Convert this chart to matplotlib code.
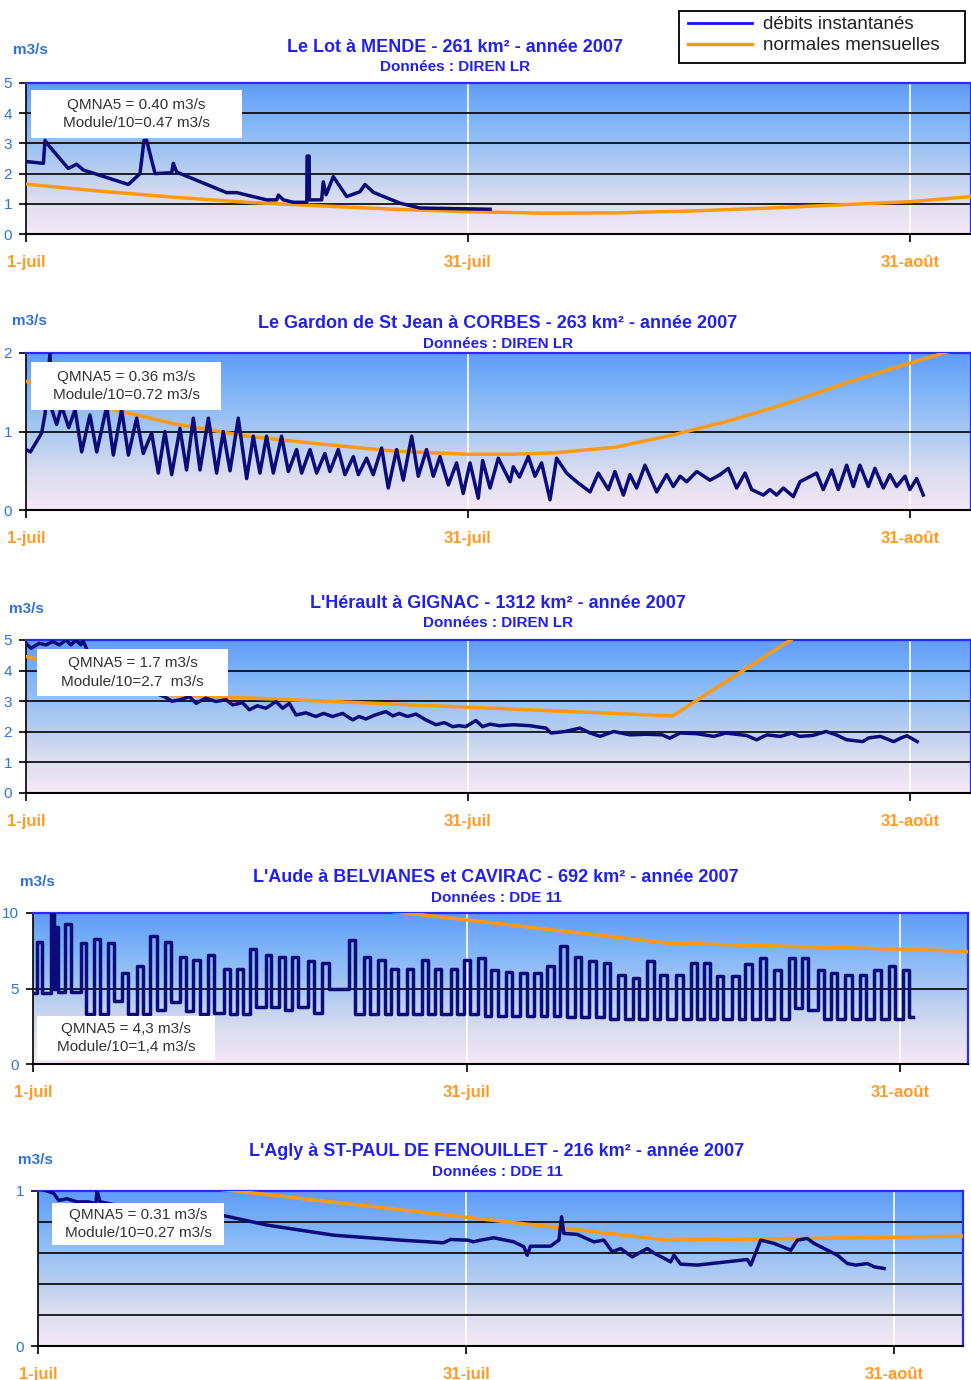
import numpy as np
import matplotlib
matplotlib.use("Agg")
import matplotlib.pyplot as plt
from matplotlib.colors import LinearSegmentedColormap
from matplotlib.lines import Line2D
from matplotlib.patches import Rectangle

plt.rcParams['font.family'] = ['Liberation Sans', 'DejaVu Sans']

# days counted from 1-juil (0) ; ticks 1-juil / 31-juil / 31-aout
tick_days = [0, 30, 60]
tick_labels = ['1-juil', '31-juil', '31-août']

# Le Lot a MENDE
lot_j = [0, 1.18, 1.29, 1.63, 2.87, 3.44, 3.89, 6.95, 7.74, 8.01,
         8.19, 8.76, 9.89, 10.0, 10.23, 13.62, 14.3, 16.34, 17.02, 17.13,
         17.47, 18.15, 19.06, 19.08, 19.22, 19.24, 20.07, 20.18, 20.37, 20.86,
         21.77, 22.67, 23.01, 23.58, 25.39, 26.75, 31.5]
lot_q = [2.40, 2.34, 3.10, 2.88, 2.17, 2.31, 2.12, 1.64, 2.0, 3.1,
         3.1, 2.0, 2.03, 2.34, 2.05, 1.37, 1.37, 1.13, 1.13, 1.29,
         1.13, 1.05, 1.05, 2.58, 2.58, 1.13, 1.13, 1.73, 1.30, 1.90,
         1.24, 1.40, 1.64, 1.38, 1.02, 0.86, 0.82]
lot_nj = [0, 5, 10, 15, 20, 25, 30, 35, 40, 45, 50, 55, 60, 64.2]
lot_nq = [1.65, 1.42, 1.22, 1.05, 0.93, 0.82, 0.74, 0.69, 0.70, 0.76, 0.85, 0.96, 1.07, 1.24]

# Le Gardon de St Jean a CORBES
gard_j = [0, 0.3, 1.06, 1.3, 1.63, 1.75, 2.08, 2.42, 2.9, 3.33,
          3.78, 4.34, 4.8, 5.48, 5.93, 6.49, 6.95, 7.51, 7.96, 8.53,
          8.98, 9.43, 9.89, 10.45, 10.9, 11.36, 11.81, 12.38, 12.94, 13.39,
          13.85, 14.41, 14.98, 15.43, 15.88, 16.33, 16.79, 17.35, 17.81, 18.37,
          18.71, 19.28, 19.73, 20.29, 20.63, 21.2, 21.65, 22.22, 22.56, 23.12,
          23.57, 24.14, 24.59, 25.16, 25.61, 26.18, 26.63, 27.19, 27.65, 28.1,
          28.67, 29.23, 29.68, 30.14, 30.7, 31.0, 31.5, 32.06, 32.86, 33.08,
          33.5, 34.1, 34.55, 35.0, 35.57, 36.02, 36.7, 37.38, 38.29, 38.85,
          39.53, 39.98, 40.55, 41.0, 41.45, 42.02, 42.81, 43.49, 43.94, 44.4,
          44.85, 45.53, 46.43, 47.11, 47.68, 48.24, 48.81, 49.26, 50.05, 50.5,
          50.96, 51.41, 52.09, 52.54, 53.67, 54.12, 54.69, 55.14, 55.71, 56.16,
          56.61, 57.18, 57.63, 58.2, 58.65, 59.1, 59.67, 60.0, 60.46, 60.91]
gard_q = [0.77, 0.74, 0.98, 1.23, 2.0, 1.28, 1.09, 1.32, 1.05, 1.28,
          0.74, 1.21, 0.74, 1.32, 0.70, 1.28, 0.70, 1.17, 0.72, 0.98,
          0.47, 1.0, 0.45, 1.04, 0.51, 1.17, 0.51, 1.17, 0.47, 1.0,
          0.5, 1.17, 0.40, 0.94, 0.47, 0.94, 0.47, 0.94, 0.49, 0.77,
          0.47, 0.77, 0.47, 0.72, 0.49, 0.77, 0.45, 0.68, 0.45, 0.66,
          0.45, 0.79, 0.28, 0.77, 0.38, 0.94, 0.43, 0.77, 0.43, 0.68,
          0.32, 0.6, 0.21, 0.6, 0.15, 0.63, 0.28, 0.66, 0.36, 0.55,
          0.42, 0.68, 0.43, 0.6, 0.13, 0.66, 0.47, 0.36, 0.23, 0.47,
          0.26, 0.49, 0.19, 0.45, 0.28, 0.57, 0.23, 0.45, 0.30, 0.43,
          0.36, 0.49, 0.38, 0.45, 0.53, 0.28, 0.47, 0.26, 0.19, 0.26,
          0.19, 0.28, 0.17, 0.36, 0.47, 0.26, 0.51, 0.26, 0.57, 0.30,
          0.57, 0.30, 0.53, 0.28, 0.45, 0.30, 0.43, 0.26, 0.40, 0.19]
gard_nj = [0, 5, 10, 15, 20, 25, 30, 33, 36, 40, 44, 48, 52, 56, 60, 62.3, 64.2]
gard_nq = [1.64, 1.32, 1.10, 0.94, 0.84, 0.75, 0.71, 0.71, 0.73, 0.80, 0.96, 1.15, 1.38,
           1.64, 1.87, 2.0, 2.1]

# L'Herault a GIGNAC
her_j = [0, 0.34, 0.9, 1.36, 1.81, 2.26, 2.71, 3.05, 3.39, 3.73,
         3.85, 4.5, 6.0, 8.0, 9.39, 9.9, 10.41, 11.1, 11.54, 12.2,
         12.9, 13.57, 14.03, 14.7, 15.16, 15.7, 16.29, 16.97, 17.42, 17.87,
         18.33, 19.0, 19.68, 20.2, 20.81, 21.5, 22.17, 22.6, 23.08, 23.7,
         24.43, 24.9, 25.34, 25.9, 26.47, 27.1, 27.83, 28.4, 28.96, 29.4,
         29.86, 30.54, 30.99, 31.5, 32.13, 33.08, 34.2, 35.3, 35.64, 36.6,
         37.6, 38.3, 38.97, 39.9, 41.0, 42.1, 43.2, 43.7, 44.4, 45.5,
         46.7, 47.5, 48.9, 49.6, 50.3, 51.2, 52.0, 52.5, 53.4, 54.3,
         55.0, 55.7, 56.8, 57.2, 58.0, 58.9, 59.4, 59.8, 60.5]
her_q = [4.89, 4.73, 4.89, 4.84, 4.95, 4.84, 5.0, 4.84, 5.0, 4.84,
         5.0, 4.3, 3.8, 3.4, 3.15, 3.0, 3.04, 3.15, 2.93, 3.1,
         2.99, 3.05, 2.88, 2.95, 2.72, 2.85, 2.77, 2.99, 2.77, 2.93,
         2.55, 2.62, 2.5, 2.6, 2.5, 2.6, 2.39, 2.5, 2.42, 2.55,
         2.66, 2.52, 2.6, 2.5, 2.58, 2.4, 2.23, 2.3, 2.17, 2.2,
         2.17, 2.37, 2.17, 2.25, 2.2, 2.23, 2.2, 2.12, 1.96, 2.01,
         2.12, 1.96, 1.85, 2.01, 1.9, 1.92, 1.9, 1.79, 1.96, 1.94,
         1.85, 1.96, 1.88, 1.74, 1.9, 1.85, 1.96, 1.85, 1.88, 2.01,
         1.9, 1.74, 1.68, 1.8, 1.85, 1.68, 1.8, 1.87, 1.68]
her_nj = [0, 9.4, 43.9, 51.9, 64.5]
her_nq = [4.46, 3.22, 2.52, 5.0, 8.9]

# L'Aude a BELVIANES et CAVIRAC (daily release pulses)
aude_start = 4.7
aude_end = 60.9
aude_up = [0.30, 1.25, 1.55, 2.20, 3.30, 4.20, 5.20, 6.15, 7.20, 8.10,
           9.10, 10.20, 11.10, 12.10, 13.20, 14.10, 15.00, 16.10, 17.00, 17.90,
           19.00, 20.00, 21.85, 22.90, 23.90, 24.80, 25.90, 26.90, 27.80, 28.90,
           29.80, 30.80, 31.70, 32.70, 33.70, 34.70, 35.60, 36.50, 37.50, 38.50,
           39.50, 40.50, 41.50, 42.50, 43.40, 44.50, 45.50, 46.40, 47.30, 48.40,
           49.30, 50.30, 51.30, 52.30, 53.20, 54.30, 55.20, 56.20, 57.20, 58.20,
           59.20, 60.20]
aude_down = [0.60, 1.45, 1.75, 2.60, 3.70, 4.65, 5.60, 6.55, 7.60, 8.55,
             9.55, 10.60, 11.55, 12.55, 13.60, 14.55, 15.45, 16.50, 17.45, 18.35,
             19.45, 20.45, 22.25, 23.30, 24.35, 25.25, 26.30, 27.35, 28.25, 29.35,
             30.25, 31.25, 32.15, 33.15, 34.15, 35.15, 36.05, 36.95, 37.95, 38.95,
             39.95, 40.95, 41.95, 42.95, 43.85, 44.95, 45.95, 46.85, 47.75, 48.85,
             49.75, 50.75, 51.75, 52.75, 53.65, 54.75, 55.65, 56.65, 57.65, 58.65,
             59.65, 60.65]
aude_peak = [8.1, 10.0, 9.1, 9.3, 8.0, 8.3, 8.0, 6.0, 6.5, 8.5,
             8.1, 7.1, 6.9, 7.2, 6.3, 6.3, 7.6, 7.2, 7.1, 7.1,
             6.8, 6.7, 8.2, 7.1, 6.9, 6.3, 6.3, 6.9, 6.3, 6.3,
             6.9, 7.0, 6.2, 6.1, 6.0, 6.0, 6.5, 7.8, 7.1, 6.8,
             6.7, 5.9, 5.7, 6.8, 5.9, 5.9, 6.7, 6.7, 5.8, 5.8,
             6.6, 7.0, 6.2, 7.0, 7.0, 6.2, 6.0, 5.9, 5.9, 6.2,
             6.5, 6.2]
aude_base = [4.7, 5.0, 4.8, 4.8, 3.3, 3.3, 4.2, 3.3, 3.3, 3.6,
             4.1, 3.5, 3.3, 3.4, 3.3, 3.3, 3.8, 3.8, 3.6, 3.8,
             3.4, 5.0, 3.3, 3.3, 3.3, 3.3, 3.3, 3.3, 3.3, 3.3,
             3.3, 3.2, 3.2, 3.2, 3.2, 3.2, 3.2, 3.1, 3.1, 3.1,
             3.0, 3.0, 3.0, 3.0, 3.0, 3.0, 3.0, 3.0, 3.0, 3.0,
             3.0, 3.0, 3.0, 3.7, 3.6, 3.0, 3.0, 2.95, 2.95, 3.0,
             3.0, 3.1]
aude_nj = [0, 25.8, 43.9, 52, 60, 64.7]
aude_nq = [12.8, 10.0, 8.0, 7.8, 7.6, 7.45]

# L'Agly a ST-PAUL DE FENOUILLET
agly_j = [0, 1.1, 1.45, 2.03, 2.73, 3.5, 4.05, 4.14, 4.2, 4.35,
          6.0, 9.0, 13.06, 16.05, 20.7, 25.4, 28.4, 28.9, 30.1, 30.5,
          31.0, 31.93, 33.34, 34.04, 34.27, 34.5, 35.9, 36.49, 36.68, 36.84,
          37.78, 38.94, 39.64, 40.23, 40.81, 41.63, 42.1, 42.68, 43.15, 44.32,
          44.55, 45.02, 46.19, 49.69, 49.93, 50.63, 51.56, 52.73, 53.2, 53.9,
          54.36, 55.07, 56.0, 56.7, 57.28, 58.1, 58.57, 59.27]
agly_q = [1.02, 0.985, 0.94, 0.95, 0.93, 0.93, 0.92, 1.0, 0.98, 0.93,
          0.9, 0.87, 0.84, 0.78, 0.715, 0.683, 0.666, 0.687, 0.683, 0.672,
          0.683, 0.698, 0.672, 0.64, 0.586, 0.644, 0.644, 0.683, 0.834, 0.726,
          0.72, 0.672, 0.683, 0.608, 0.629, 0.575, 0.6, 0.629, 0.6, 0.543,
          0.586, 0.528, 0.522, 0.558, 0.522, 0.683, 0.662, 0.618, 0.683, 0.694,
          0.662, 0.629, 0.586, 0.532, 0.522, 0.532, 0.511, 0.5]
agly_nj = [0, 13.8, 44.1, 55, 64.8]
agly_nq = [1.144, 1.0, 0.683, 0.695, 0.709]

W, H = 971, 1380
NAVY = '#0b0b7a'
ORANGE = '#ff9a10'
TICK_ORANGE = '#ff9a22'
TITLE_BLUE = '#2121e8'
AXIS_BLUE = '#2f72d6'
EDGE_BLUE = '#2a2aff'

bg = LinearSegmentedColormap.from_list(
    'bg', ['#f6e8f6', '#d8dcef', '#a9c8f2', '#80b5f8', '#5f9cf7'])
grad = np.linspace(0, 1, 256).reshape(-1, 1)

fig = plt.figure(figsize=(W / 100, H / 100), dpi=100)


def px_axes(l, r, t, b):
    return fig.add_axes([l / W, 1 - b / H, (r - l) / W, (b - t) / H])


def ftext(x, y, s, **kw):
    fig.text(x / W, 1 - y / H, s, **kw)


def px_rect(x0, y0, x1, y1, **kw):
    fig.add_artist(Rectangle((x0 / W, 1 - y1 / H), (x1 - x0) / W, (y1 - y0) / H,
                             transform=fig.transFigure, **kw))


def panel(frame, xmax, ymax, yticks, grid, j, q, nj, nq, step=False):
    ax = px_axes(*frame)
    ax.imshow(grad, extent=[0, 1, 0, 1], transform=ax.transAxes, origin='lower',
              aspect='auto', cmap=bg, zorder=0)
    ax.set_xlim(0, xmax)
    ax.set_ylim(0, ymax)
    for v in tick_days[1:]:
        ax.axvline(v, color='white', lw=1.2, zorder=1)
    for v in grid:
        ax.axhline(v, color='black', lw=1.2, zorder=1.5)
    ax.plot(nj, nq, color=ORANGE, lw=2.5, zorder=3)
    ax.plot(j, q, color=NAVY, lw=2.5, zorder=4,
            drawstyle='steps-post' if step else 'default', solid_joinstyle='round')
    for s in ['top', 'right']:
        ax.spines[s].set_color(EDGE_BLUE)
        ax.spines[s].set_linewidth(1.6)
    ax.spines['left'].set_linewidth(1.2)
    ax.spines['bottom'].set_linewidth(1.5)
    ax.set_xticks(tick_days)
    ax.set_xticklabels(tick_labels, fontweight='bold')
    ax.tick_params(axis='x', length=6, width=1.2, pad=9, labelsize=12,
                   labelcolor=TICK_ORANGE)
    ax.set_yticks(yticks)
    ax.set_yticklabels([str(v) for v in yticks])
    ax.tick_params(axis='y', length=5, width=1.2, pad=5, labelsize=11,
                   labelcolor=AXIS_BLUE)
    return ax


def info_box(x0, y0, x1, y1, txt):
    px_rect(x0, y0, x1, y1, facecolor='white', edgecolor='none', zorder=5)
    ftext((x0 + x1) / 2, (y0 + y1) / 2, txt, ha='center', va='center',
          fontsize=11, color='#333333', linespacing=1.45, zorder=6)


def heading(cx, y, title, sub, ux, uy):
    ftext(cx, y + 2, title, ha='center', va='center', fontsize=13, fontweight='bold',
          color=TITLE_BLUE)
    ftext(cx, y + 22, sub, ha='center', va='center', fontsize=11, fontweight='bold',
          color=TITLE_BLUE)
    ftext(ux, uy, 'm3/s', ha='left', va='center', fontsize=11, fontweight='bold',
          color=AXIS_BLUE)


# Le Lot
panel((26, 971, 83, 234), 64.15, 5, [0, 1, 2, 3, 4, 5], [1, 2, 3, 4],
      lot_j, lot_q, lot_nj, lot_nq)
heading(455, 45, 'Le Lot à MENDE - 261 km² - année 2007', 'Données : DIREN LR', 13, 50)
info_box(31, 90, 242, 138, 'QMNA5 = 0.40 m3/s\nModule/10=0.47 m3/s')

# Le Gardon
panel((26, 971, 353, 510), 64.15, 2, [0, 1, 2], [1],
      gard_j, gard_q, gard_nj, gard_nq)
heading(498, 322, 'Le Gardon de St Jean à CORBES - 263 km² - année 2007',
        'Données : DIREN LR', 12, 321)
info_box(31, 362, 221, 410, 'QMNA5 = 0.36 m3/s\nModule/10=0.72 m3/s')

# L'Herault
panel((26, 971, 640, 793), 64.15, 5, [0, 1, 2, 3, 4, 5], [1, 2, 3, 4],
      her_j, her_q, her_nj, her_nq)
heading(498, 601, "L'Hérault à GIGNAC - 1312 km² - année 2007",
        'Données : DIREN LR', 9, 609)
info_box(37, 649, 228, 696, 'QMNA5 = 1.7 m3/s\nModule/10=2.7  m3/s')

# L'Aude : step series built from the pulse lists
aude_t = [0.0]
aude_q = [aude_start]
for up, dn, pk, bs in zip(aude_up, aude_down, aude_peak, aude_base):
    aude_t += [up, dn]
    aude_q += [pk, bs]
aude_t.append(aude_end)
aude_q.append(aude_base[-1])
panel((33, 968, 913, 1064), 64.7, 10, [0, 5, 10], [5],
      aude_t, aude_q, aude_nj, aude_nq, step=True)
heading(496, 876, "L'Aude à BELVIANES et CAVIRAC - 692 km² - année 2007",
        'Données : DDE 11', 20, 882)
info_box(37, 1016, 215, 1060, 'QMNA5 = 4,3 m3/s\nModule/10=1,4 m3/s')

# L'Agly
panel((38, 963, 1191, 1346), 64.8, 1, [0, 1], [0.2, 0.4, 0.6, 0.8],
      agly_j, agly_q, agly_nj, agly_nq)
heading(497, 1150, "L'Agly à ST-PAUL DE FENOUILLET - 216 km² - année 2007",
        'Données : DDE 11', 18, 1160)
info_box(52, 1203, 224, 1245, 'QMNA5 = 0.31 m3/s\nModule/10=0.27 m3/s')

# legend with a fixed frame
px_rect(679, 11, 965, 63, facecolor='white', edgecolor='black', lw=1.3, zorder=4)
handles = [Line2D([], [], color='#1414e6', lw=2), Line2D([], [], color=ORANGE, lw=2.5)]
leg = fig.legend(handles, ['débits instantanés', 'normales mensuelles'],
                 loc='upper left', bbox_to_anchor=(688 / W, 1 - 16 / H),
                 fontsize=13.5, frameon=False, borderaxespad=0, borderpad=0,
                 handlelength=3.4, handletextpad=0.6, labelspacing=0.22)
leg.set_zorder(6)
for t in leg.get_texts():
    t.set_color('#222222')

fig.savefig('out.png', dpi=100)
